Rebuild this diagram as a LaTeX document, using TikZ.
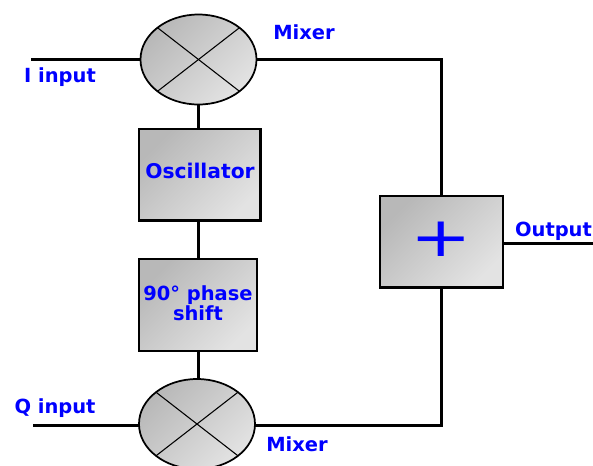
\documentclass[tikz,border=0pt]{standalone}
\usepackage{fontspec}
\setmainfont{DejaVu Sans}
\usetikzlibrary{positioning,shapes.geometric}

\begin{document}
\begin{tikzpicture}[
  x=0.75pt,y=-0.75pt,
  mixnode/.style={draw,ellipse,line width=1.3pt,minimum width=87pt,minimum height=67.5pt,inner sep=0pt,outer sep=0pt,top color=black!28,bottom color=black!11,shading angle=45},
  boxnode/.style={draw,rectangle,line width=1.5pt,align=center,inner sep=0pt,outer sep=0pt,minimum width=91pt,minimum height=69pt,top color=black!28,bottom color=black!11,shading angle=45,text=blue},
  lbl/.style={text=blue,inner sep=0pt},
  wire/.style={line width=2.25pt},
  xline/.style={line width=0.8pt},
  font=\fontsize{14.6}{15}\selectfont\bfseries
]
\useasboundingbox (0,0) rectangle (593,465);
\fill[white] (0,0) rectangle (593,465);
\coordinate (iin) at (31,59.5);
\coordinate (qin) at (33,425.5);
\coordinate (outend) at (593,243.5);
% wires
\node[mixnode] (mixi) at (198.5,59.5) {};
\node[boxnode,text depth=6pt,font=\fontsize{15.2}{15}\selectfont\bfseries] (osc) at (200,174.5) {Oscillator};
\node[boxnode,minimum width=89pt] (phase) at (198,305) {90° phase\\shift\rule[-3pt]{0pt}{3pt}};
\node[mixnode] (mixq) at (197,424) {};
\node[boxnode,minimum width=92pt,text depth=4pt,font=\fontsize{55}{55}\selectfont\mdseries] (sum) at (441.5,241.5) {\scalebox{1}[0.75]{+}};
\draw[wire] (iin) -- (iin -| mixi.west);
\draw[wire] (qin) -- (qin -| mixq.west);
\draw[wire] (mixi.east) -| (sum.north);
\draw[wire] (qin -| mixq.east) -| (sum.south);
\draw[wire] (mixi.south) -- (mixi.south |- osc.north);
\draw[wire] (mixi.south |- osc.south) -- (mixi.south |- phase.north);
\draw[wire] (mixi.south |- phase.south) -- (mixi.south |- mixq.north);
\draw[wire] (outend -| sum.east) -- (outend);
% crossing lines
\draw[xline] (mixi.north west) -- (mixi.south east);
\draw[xline] (mixi.north east) -- (mixi.south west);
\draw[xline] (mixq.north west) -- (mixq.south east);
\draw[xline] (mixq.north east) -- (mixq.south west);
% heavier box edges
\draw[wire] (osc.south west) -- (osc.south east) -- (osc.north east);
\draw[wire] (sum.south west) -- (sum.south east);
\node[lbl] (ilabel) at (60,77) {I input};
\node[lbl] (qlabel) at (55,408) {Q input};
\node[lbl] (mixitop) at (304,32) {Mixer};
\node[lbl] (mixqbot) at (297,444) {Mixer};
\node[lbl] (outlabel) at (553.5,231) {Output};
\end{tikzpicture}
\end{document}
